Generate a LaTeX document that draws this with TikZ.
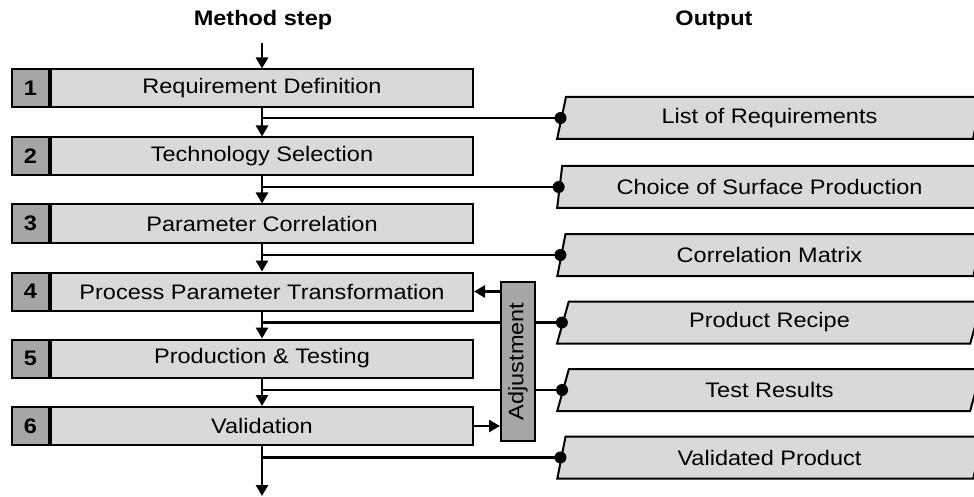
\documentclass[tikz,border=0pt]{standalone}
\usepackage{fontspec}
\setmainfont{Liberation Sans}[FakeStretch=1.12]
\usetikzlibrary{arrows.meta,shapes.geometric}
\definecolor{boxgray}{HTML}{D9D9D9}
\definecolor{numgray}{HTML}{A6A6A6}
\begin{document}
\begin{tikzpicture}[x=1pt,y=-1pt,
  txt/.style={font=\fontsize{21}{24}\selectfont},
  stepbox/.style={draw,line width=2pt,fill=boxgray,minimum width=422pt,
    minimum height=38pt,inner sep=0pt,txt},
  numbox/.style={draw,line width=2pt,fill=numgray,minimum width=37pt,
    minimum height=38pt,inner sep=0pt,font=\bfseries\fontsize{21}{24}\selectfont},
  outbox/.style={trapezium,trapezium left angle=76.5,trapezium right angle=103.5,
    trapezium stretches=true,draw,line width=2pt,fill=boxgray,
    minimum width=425pt,minimum height=42pt,inner sep=0pt,txt},
  adjbox/.style={draw,line width=2pt,fill=numgray,minimum width=159pt,
    minimum height=34pt,inner sep=0pt,rotate=90,txt},
  head/.style={font=\bfseries\fontsize{21}{24}\selectfont},
  flow/.style={line width=2.6pt,-{Triangle[length=11pt,width=12pt]}},
  link/.style={line width=2.4pt},
  dot/.style={circle,fill=black,inner sep=0pt,minimum size=12pt}
]
\clip (0,0) rectangle (974,497);

% column headings
\node[head] (hstep) at (263,20) {Method step};
\node[head] (hout) at (714,20) {Output};

% method steps
\foreach \i/\y/\t in {1/88.5/Requirement Definition,2/156.5/Technology Selection,
  3/223.5/Parameter Correlation,4/291.5/Process Parameter Transformation,
  5/358.5/Production \& Testing,6/426/Validation}{
  \node[stepbox] (s\i) at (262,\y) {\t};
  \node[numbox,anchor=east] (n\i) at (s\i.west) {\i};
}

% outputs
\foreach \i/\y/\t in {1/118/List of Requirements,2/187/Choice of Surface Production,
  3/255/Correlation Matrix,4/322.5/Product Recipe,5/390/Test Results,
  6/457.5/Validated Product}{
  \node[outbox] (o\i) at (769.5,\y) {\t};
}

% entry and exit of the main flow
\coordinate (start) at (262,43);
\coordinate (finish) at (262,496);
\draw[flow] (start) -- (s1.north);
\draw[flow] (s6.south) -- (finish);

% flow between steps
\foreach \i/\j in {1/2,2/3,3/4,4/5,5/6}{
  \draw[flow] (s\i.south) -- (s\j.north);
}

% branches to the outputs
\foreach \i in {1,...,6}{
  \draw[link] (s\i.south |- o\i.west) -- (o\i.west);
}

% adjustment loop
\node[adjbox] (adj) at (518,361.5) {Adjustment};
\draw[flow] (s4.east -| adj.north) -- (s4.east);
\draw[flow] (s6.east) -- (s6.east -| adj.north);

% connection dots on the outputs
\foreach \i in {1,...,6}{
  \node[dot] (d\i) at (o\i.west) {};
}
\end{tikzpicture}
\end{document}
